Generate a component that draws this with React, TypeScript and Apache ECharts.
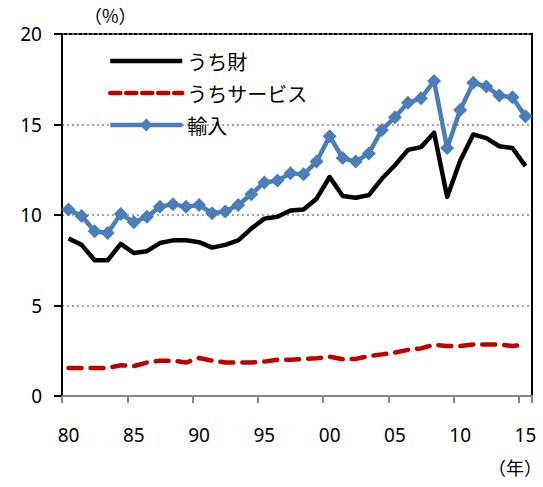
import React, { useEffect, useRef } from "react";
import * as echarts from "echarts";

const years: string[] = [];
for (let y = 1980; y <= 2015; y++) years.push(String(y));

const goods = [
  8.7, 8.35, 7.5, 7.5, 8.4, 7.9, 8.0, 8.45, 8.6, 8.6,
  8.5, 8.2, 8.35, 8.6, 9.25, 9.8, 9.9, 10.25, 10.3, 10.9,
  12.1, 11.05, 10.95, 11.1, 12.0, 12.75, 13.6, 13.75, 14.55, 11.0,
  13.0, 14.45, 14.25, 13.8, 13.7, 12.7,
];

const services = [
  1.55, 1.55, 1.55, 1.55, 1.7, 1.65, 1.85, 1.95, 1.95, 1.85,
  2.1, 1.95, 1.85, 1.85, 1.85, 1.9, 2.0, 2.0, 2.05, 2.08,
  2.17, 2.03, 2.05, 2.2, 2.3, 2.4, 2.55, 2.63, 2.83, 2.76,
  2.76, 2.85, 2.85, 2.85, 2.76, 2.85,
];

const imports = [
  10.3, 9.95, 9.1, 9.0, 10.05, 9.6, 9.9, 10.45, 10.6, 10.45,
  10.55, 10.1, 10.2, 10.55, 11.15, 11.8, 11.9, 12.3, 12.25, 12.95,
  14.35, 13.15, 12.95, 13.4, 14.7, 15.4, 16.2, 16.45, 17.4, 13.7,
  15.8, 17.3, 17.1, 16.6, 16.5, 15.45,
];

const seriesNames = ["うち財", "うちサービス", "輸入"];
const yTicks = [0, 5, 10, 15, 20];

const FONT = "'Noto Sans', 'Noto Sans CJK JP', sans-serif";
const CJK = "'Noto Sans CJK JP', sans-serif";

const BLACK = "#000000";
const RED = "#c00000";
const BLUE = "#4a7ebb";

export default function App() {
  const ref = useRef<HTMLDivElement>(null);
  useEffect(() => {
    if (!ref.current) return;
    const chart = echarts.init(ref.current, null, { renderer: "svg" });
    chart.setOption({
      animation: false,
      backgroundColor: "#ffffff",
      textStyle: { fontFamily: FONT },
      grid: {
        left: 62,
        right: 11,
        top: 34,
        bottom: 91,
        show: true,
        borderColor: "#000000",
        borderWidth: 2,
        backgroundColor: "transparent",
      },
      legend: {
        orient: "vertical",
        left: 103,
        top: 46,
        itemWidth: 72,
        itemHeight: 16,
        itemGap: 12,
        data: [
          {
            name: seriesNames[0],
            itemStyle: { opacity: 0 },
            lineStyle: { width: 4.5, color: BLACK },
          },
          {
            name: seriesNames[1],
            itemStyle: { opacity: 0 },
            lineStyle: { width: 4.5, color: RED, type: [10, 6], cap: "round" },
          },
          {
            name: seriesNames[2],
            lineStyle: { width: 4.5, color: BLUE },
          },
        ],
        textStyle: { fontSize: 20, color: "#000", fontFamily: CJK, lineHeight: 20 },
      },
      graphic: [
        {
          type: "text",
          left: 84,
          top: 6,
          style: { text: "（%）", fontSize: 18, fill: "#000", fontFamily: CJK },
        },
        {
          type: "text",
          left: 488,
          top: 458,
          style: { text: "（年）", fontSize: 18, fill: "#000", fontFamily: CJK },
        },
      ],
      xAxis: {
        type: "category",
        data: years,
        boundaryGap: true,
        axisLine: { show: true, lineStyle: { color: "#888888", width: 2 } },
        axisTick: { show: true, interval: 4, length: 7, lineStyle: { color: "#888888", width: 2 } },
        axisLabel: {
          interval: 4,
          margin: 29,
          fontSize: 19,
          color: "#000",
          fontFamily: FONT,
          formatter: (v: string) => v.slice(2),
        },
        splitLine: { show: false },
      },
      yAxis: {
        type: "value",
        min: yTicks[0],
        max: yTicks[yTicks.length - 1],
        interval: 5,
        axisLine: { show: true, lineStyle: { color: "#000", width: 2 } },
        axisTick: { show: true, length: 8, lineStyle: { color: "#000", width: 2 } },
        axisLabel: { margin: 20, fontSize: 19, color: "#000", fontFamily: FONT },
        splitLine: {
          show: true,
          lineStyle: { color: "#888888", width: 1.5, type: [2, 3] },
        },
      },
      series: [
        {
          name: seriesNames[0],
          type: "line",
          data: goods,
          symbol: "none",
          lineStyle: { color: BLACK, width: 4.5, join: "round" },
          itemStyle: { color: BLACK },
          z: 3,
        },
        {
          name: seriesNames[1],
          type: "line",
          data: services,
          symbol: "none",
          lineStyle: { color: RED, width: 4.5, type: [13, 9], cap: "round" },
          itemStyle: { color: RED },
          z: 2,
        },
        {
          name: seriesNames[2],
          type: "line",
          data: imports,
          symbol: "diamond",
          symbolSize: 14,
          showAllSymbol: true,
          lineStyle: { color: BLUE, width: 4.5 },
          itemStyle: { color: BLUE },
          z: 4,
        },
      ],
    });
    return () => chart.dispose();
  }, []);
  return <div ref={ref} style={{ width: 543, height: 487, position: "absolute", left: 0, top: 0 }} />;
}
